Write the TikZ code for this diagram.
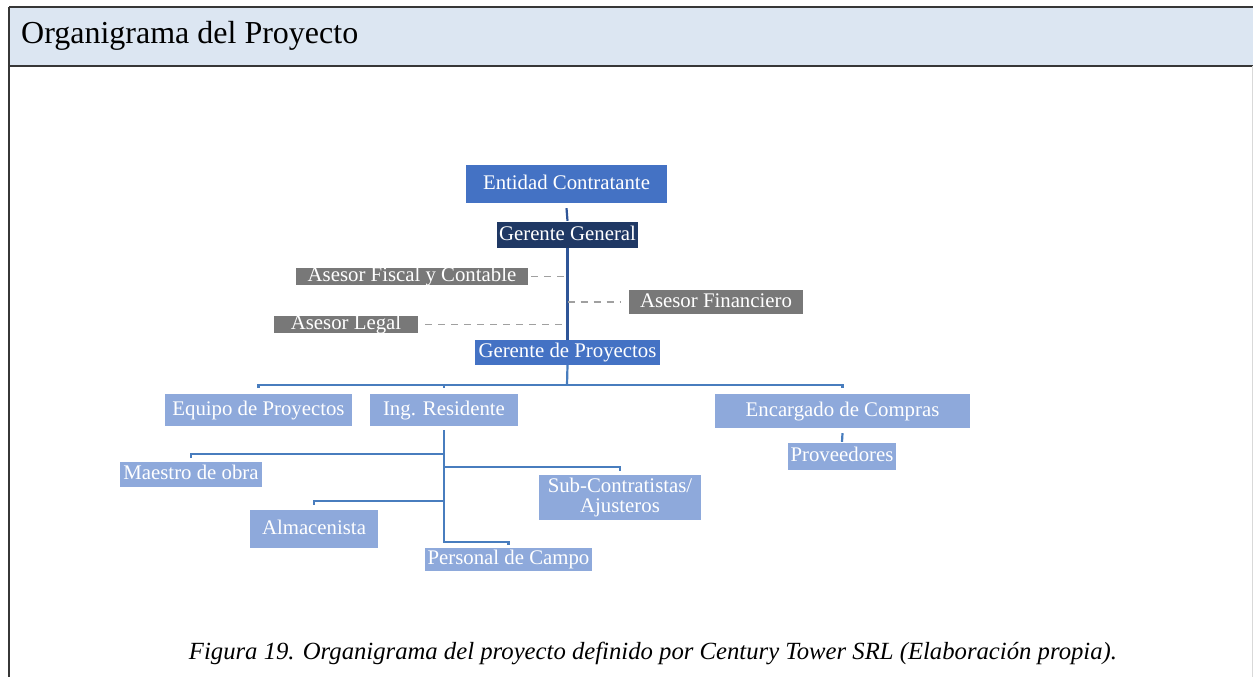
\documentclass[tikz,border=0pt]{standalone}
\usepackage{fontspec}
\setmainfont{Liberation Serif}
\definecolor{hdr}{RGB}{220,230,242}
\definecolor{framec}{RGB}{55,55,55}
\definecolor{midb}{RGB}{68,114,196}
\definecolor{navy}{RGB}{31,56,100}
\definecolor{lightb}{RGB}{142,169,219}
\definecolor{grayb}{RGB}{120,120,120}
\definecolor{connc}{RGB}{72,125,190}
\definecolor{darkconn}{RGB}{47,85,151}
\definecolor{dashc}{RGB}{160,160,160}
\begin{document}
\begin{tikzpicture}[x=1pt,y=-1pt,
  orgbox/.style={inner sep=0pt, text=white, font=\fontsize{20.8}{21}\selectfont,
    text height=14pt, text depth=4pt},
  midbox/.style={orgbox, fill=midb},
  navybox/.style={orgbox, fill=navy},
  lightbox/.style={orgbox, fill=lightb},
  graybox/.style={orgbox, fill=grayb, text height=13pt, text depth=3pt},
  connl/.style={draw=connc, line width=2.2pt},
  dashl/.style={draw=dashc, line width=1.8pt, dash pattern=on 7pt off 6pt}]
\useasboundingbox (0,0) rectangle (1253,677);
% header and frame
\fill[hdr] (9,7) rectangle (1253,66);
\draw[framec, line width=2.2pt] (9,7) -- (1253,7);
\draw[framec, line width=2.2pt] (9,66) -- (1253,66);
\draw[framec, line width=1.6pt] (9,7) -- (9,677);
\draw[black!15, line width=0.8pt] (1252,66) -- (1252,677);
\node[anchor=west, font=\fontsize{32}{34}\selectfont, inner sep=0pt] (title) at (21,36) {Organigrama del Proyecto};

% boxes
\node[midbox, minimum width=201pt, minimum height=38pt] (ent) at (566.5,184) {Entidad Contratante};
\node[navybox, minimum width=141pt, minimum height=26pt] (gg) at (567.5,235) {Gerente General};
\node[graybox, minimum width=232pt, minimum height=17pt] (fis) at (412,276.5) {Asesor Fiscal y Contable};
\node[graybox, minimum width=174pt, minimum height=24pt] (fin) at (716,302) {Asesor Financiero};
\node[graybox, minimum width=144pt, minimum height=17pt] (leg) at (346,324.5) {Asesor Legal};
\node[midbox, minimum width=185pt, minimum height=25pt] (gp) at (567.5,352.5) {Gerente de Proyectos};
\node[lightbox, minimum width=187pt, minimum height=32pt] (eq) at (258.5,410) {Equipo de Proyectos};
\node[lightbox, minimum width=148pt, minimum height=32pt] (ing) at (444,410) {Ing. Residente};
\node[lightbox, minimum width=255pt, minimum height=34pt] (enc) at (842.5,411) {Encargado de Compras};
\node[lightbox, minimum width=108pt, minimum height=27pt] (prov) at (842,456.5) {Proveedores};
\node[lightbox, minimum width=142pt, minimum height=25pt] (mae) at (191,474.5) {Maestro de obra};
\node[lightbox, minimum width=128pt, minimum height=38pt] (alm) at (314,529) {Almacenista};
\node[lightbox, minimum width=162pt, minimum height=45pt, align=center, text height={}, text depth={},
  font=\fontsize{20.8}{20}\selectfont] (sub) at (620,497.5) {Sub-Contratistas/\\Ajusteros};
\node[lightbox, minimum width=167pt, minimum height=23pt] (per) at (508.5,559.5) {Personal de Campo};

% connectors top
\draw[draw=darkconn, line width=2.2pt] ([yshift=-5pt]ent.south) -- ([yshift=1pt]gg.north);
\draw[draw=darkconn, line width=2.2pt] (gg.south) -- (gp.north);
% advisers
\draw[dashl] ([xshift=3pt]fis.east) -- (fis.east -| gg.south);
\draw[dashl] (fin.west -| gg.south) -- ([xshift=-8pt]fin.west);
\draw[dashl] ([xshift=7pt]leg.east) -- ([xshift=-5pt]leg.east -| gg.south);

% main bar
\coordinate (bar) at (567,385);
\draw[connl] (gp.south) -- (bar);
\draw[connl] ([yshift=-3pt]eq.north |- bar) -- (eq.north |- bar) -- (enc.north |- bar) -- ([yshift=-3pt]enc.north |- bar);
\draw[connl] (ing.north |- bar) -- ([yshift=-3pt]ing.north |- bar);
\draw[connl] ([yshift=-5pt]enc.south) -- ([yshift=1pt]prov.north);

% Ing. Residente branches
\coordinate (ib) at (444,542);
\draw[connl] ([yshift=-4pt]ing.south) -- (ib) -| ([yshift=3pt]per.north);
\coordinate (mt) at (191,454);
\draw[connl] (ing.south |- mt) -- (mt) -- ([yshift=4pt]mae.north);
\coordinate (at) at (314,501);
\draw[connl] (ing.south |- at) -- (at) -- ([yshift=5pt]alm.north);
\coordinate (st) at (620,467);
\draw[connl] (ing.south |- st) -- (st) -- ([yshift=4pt]sub.north);

% caption
\node[font=\fontsize{24.7}{26}\selectfont\itshape, inner sep=0pt] (cap) at (653,653) {Figura 19. Organigrama del proyecto definido por Century Tower SRL (Elaboración propia).};
\end{tikzpicture}
\end{document}
